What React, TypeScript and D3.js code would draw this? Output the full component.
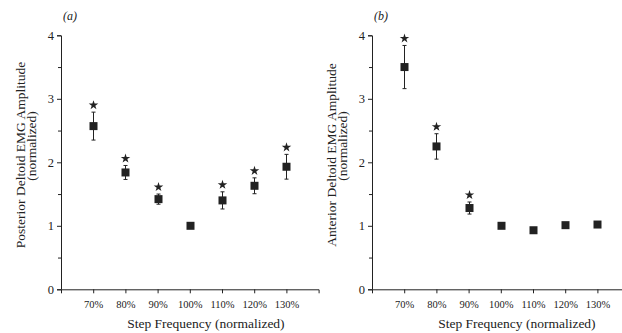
import React, { useRef, useEffect } from "react";
import * as d3 from "d3";

const freqs = [70, 80, 90, 100, 110, 120, 130];
const tickLabels = ["70%", "80%", "90%", "100%", "110%", "120%", "130%"];

// (a) posterior deltoid
const posteriorMean = [2.57, 1.84, 1.42, 1.0, 1.4, 1.63, 1.93];
const posteriorErr = [0.22, 0.11, 0.08, 0, 0.135, 0.125, 0.195];
const posteriorSig = [true, true, true, false, true, true, true];

// (b) anterior deltoid
const anteriorMean = [3.5, 2.25, 1.28, 1.0, 0.93, 1.01, 1.02];
const anteriorErr = [0.34, 0.2, 0.095, 0, 0, 0, 0];
const anteriorSig = [true, true, true, false, false, false, false];

const yMajor = [0, 1, 2, 3, 4];
const yMinor = [0.5, 1.5, 2.5, 3.5];

const FONT = "'Liberation Serif', 'DejaVu Serif', serif";
const INK = "#222";

type PanelProps = {
    left: number;
    tag: string;
    title: string;
    mean: number[];
    err: number[];
    sig: boolean[];
};

const Panel = ({ left, tag, title, mean, err, sig }: PanelProps) => {
    const ref = useRef<SVGGElement | null>(null);

    useEffect(() => {
        const top = 35.3;
        const bottom = 289.3;
        const g = d3.select(ref.current);
        g.selectAll("*").remove();

        const x = d3.scaleLinear().domain([60, 140]).range([0, 257.6]);
        const y = d3.scaleLinear().domain([0, 4]).range([bottom, top]);

        // minor y ticks
        g.append("g")
            .call(
                d3.axisLeft(y).tickValues(yMinor).tickSize(3).tickFormat(() => "")
            )
            .call((s) => s.select(".domain").remove());

        // y axis
        const ya = g
            .append("g")
            .call(d3.axisLeft(y).tickValues(yMajor).tickSize(4).tickPadding(3).tickFormat(d3.format("d")));
        ya.selectAll("text").attr("font-size", 12.5).attr("font-family", FONT).attr("fill", INK);

        // x axis
        const xa = g
            .append("g")
            .attr("transform", `translate(0,${bottom})`)
            .call(
                d3
                    .axisBottom(x)
                    .tickValues(freqs)
                    .tickSize(4)
                    .tickPadding(7)
                    .tickFormat((d, i) => tickLabels[i])
            );
        xa.selectAll("text").attr("font-size", 10.5).attr("font-family", FONT).attr("fill", INK);

        g.selectAll(".domain, .tick line").attr("stroke", INK);

        // error bars
        const eb = g.append("g").attr("stroke", INK).attr("stroke-width", 1);
        freqs.forEach((f, i) => {
            if (err[i] <= 0) return;
            const cx = Math.round(x(f)) + 0.5;
            const y1 = y(mean[i] + err[i]);
            const y2 = y(mean[i] - err[i]);
            eb.append("line").attr("x1", cx).attr("x2", cx).attr("y1", y1).attr("y2", y2);
            eb.append("line").attr("x1", cx - 2).attr("x2", cx + 2).attr("y1", y1).attr("y2", y1);
            eb.append("line").attr("x1", cx - 2).attr("x2", cx + 2).attr("y1", y2).attr("y2", y2);
        });

        // squares
        g.append("g")
            .selectAll("rect")
            .data(freqs)
            .join("rect")
            .attr("x", (d) => Math.round(x(d)) + 0.5 - 4)
            .attr("y", (d, i) => y(mean[i]) - 4)
            .attr("width", 8)
            .attr("height", 8)
            .attr("fill", INK);

        // significance stars
        const star = d3.symbol(d3.symbolStar, 28);
        g.append("g")
            .selectAll("path")
            .data(freqs.filter((d, i) => sig[i]))
            .join("path")
            .attr("d", star)
            .attr("fill", INK)
            .attr("transform", (d) => {
                const i = freqs.indexOf(d);
                return `translate(${Math.round(x(d)) + 0.5},${y(mean[i] + err[i]) - 7})`;
            });

        // labels
        g.append("text")
            .attr("x", 2)
            .attr("y", 20)
            .attr("font-family", FONT)
            .attr("font-size", 12)
            .attr("font-style", "italic")
            .attr("fill", INK)
            .text(tag);

        g.append("text")
            .attr("x", x(105))
            .attr("y", 328)
            .attr("text-anchor", "middle")
            .attr("font-family", FONT)
            .attr("font-size", 13.5)
            .attr("fill", INK)
            .text("Step Frequency (normalized)");

        g.append("text")
            .attr("transform", `translate(-36,155) rotate(-90)`)
            .attr("text-anchor", "middle")
            .attr("font-family", FONT)
            .attr("font-size", 13.5)
            .attr("fill", INK)
            .text(title);

        g.append("text")
            .attr("transform", `translate(-25,146) rotate(-90)`)
            .attr("text-anchor", "middle")
            .attr("font-family", FONT)
            .attr("font-size", 13.5)
            .attr("fill", INK)
            .text("(normalized)");
    }, [tag, title, mean, err, sig]);

    return <g ref={ref} transform={`translate(${left},0)`} />;
};

const App = () => {
    return (
        <svg
            width={622}
            height={333}
            viewBox="0 0 622 333"
            style={{ position: "absolute", left: 0, top: 0, background: "#fff" }}
        >
            <Panel
                left={61}
                tag="(a)"
                title="Posterior Deltoid EMG Amplitude"
                mean={posteriorMean}
                err={posteriorErr}
                sig={posteriorSig}
            />
            <Panel
                left={372}
                tag="(b)"
                title="Anterior Deltoid EMG Amplitude"
                mean={anteriorMean}
                err={anteriorErr}
                sig={anteriorSig}
            />
        </svg>
    );
};

export default App;
